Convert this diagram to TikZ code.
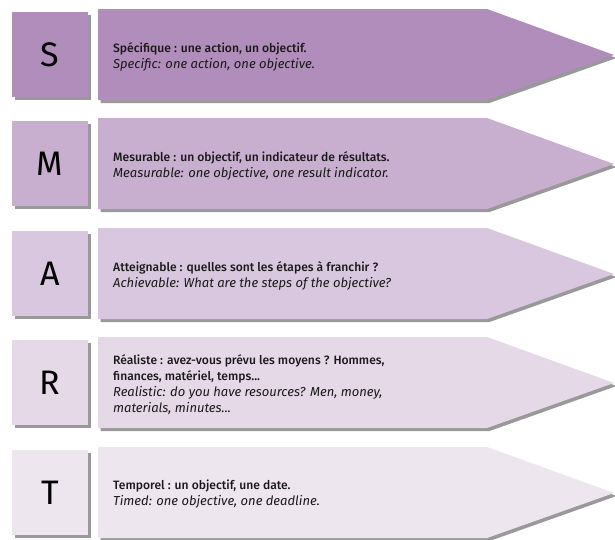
\documentclass[tikz,border=0pt]{standalone}
\usepackage{fontspec}
\setmainfont{Fira Sans}[BoldFont={Fira Sans Medium}]
\usetikzlibrary{shadows}
\definecolor{cS}{HTML}{B08DBA}
\definecolor{cM}{HTML}{C8AECF}
\definecolor{cA}{HTML}{D8C7DE}
\definecolor{cR}{HTML}{E5D9E8}
\definecolor{cT}{HTML}{EDE6EF}
\newcommand{\fr}[1]{{\fontsize{12.1}{16}\selectfont\bfseries #1}}
\newcommand{\en}[1]{{\fontsize{13}{16}\selectfont\itshape #1}}
\tikzset{
  shad/.style={drop shadow={shadow xshift=2.5pt, shadow yshift=-3pt, fill=black, opacity=0.4}},
  letter/.style={font=\fontsize{34}{34}\selectfont, text=black},
  desc/.style={anchor=west, align=left, font=\fontsize{12.5}{16}\selectfont, text=black!90, inner sep=0pt},
}
\newcommand{\smartrow}[5]{%
  % #1 name, #2 top, #3 colour, #4 letter, #5 text
  \fill[#3, shad] (98,#2) -- (487,#2) -- (614,#2+46) -- (487,#2+91) -- (98,#2+91) -- cycle;
  \node[fill=#3, shad, minimum width=76pt, minimum height=85pt, inner sep=0pt, letter] (#1sq) at (50,#2+45.5) {#4};
  \node[desc] (#1txt) at (113,#2+47.5) {#5};
}
\begin{document}
\begin{tikzpicture}[x=1pt,y=-1pt]
\fill[white] (0,0) rectangle (615,539);
\useasboundingbox (0,0) rectangle (615,539);
\smartrow{s}{9}{cS}{S}{\fr{Spécifique : une action, un objectif.}\\\en{Specific: one action, one objective.}}
\smartrow{m}{118}{cM}{M}{\fr{Mesurable : un objectif, un indicateur de résultats.}\\\en{Measurable: one objective, one result indicator.}}
\smartrow{a}{228}{cA}{A}{\fr{Atteignable : quelles sont les étapes à franchir ?}\\\en{Achievable: What are the steps of the objective?}}
\smartrow{r}{337}{cR}{R}{\fr{Réaliste : avez-vous prévu les moyens ? Hommes,}\\\fr{finances, matériel, temps...}\\\en{Realistic: do you have resources? Men, money,}\\\en{materials, minutes...}}
\smartrow{t}{447}{cT}{T}{\fr{Temporel : un objectif, une date.}\\\en{Timed: one objective, one deadline.}}
\end{tikzpicture}
\end{document}
